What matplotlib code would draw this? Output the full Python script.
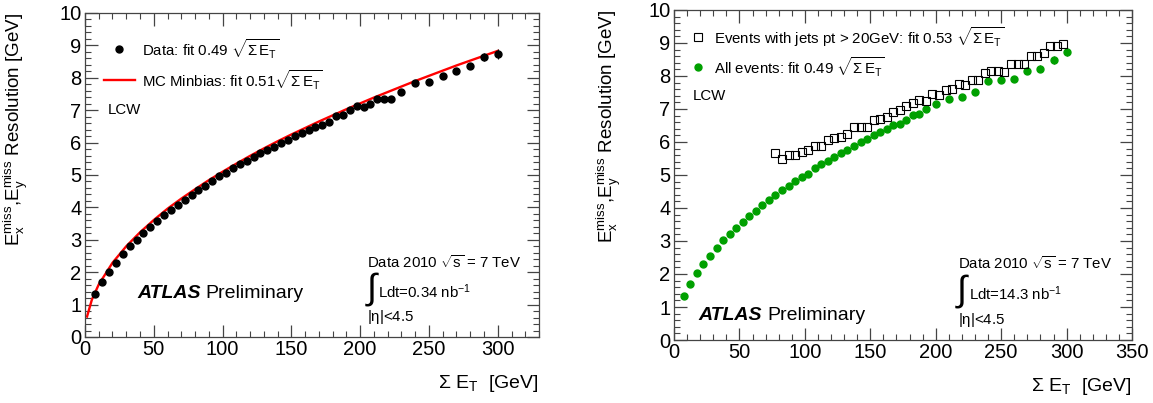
import numpy as np
import matplotlib
matplotlib.use('Agg')
import matplotlib.pyplot as plt
from matplotlib.ticker import MultipleLocator

plt.rcParams['font.family'] = ['Liberation Sans', 'DejaVu Sans']
plt.rcParams['mathtext.fontset'] = 'custom'
plt.rcParams['mathtext.rm'] = 'Liberation Sans'
plt.rcParams['mathtext.it'] = 'Liberation Sans'
plt.rcParams['mathtext.default'] = 'regular'

# Left panel: data (0.34 nb-1) and MC minbias curve
left_x = [7.5, 12.5, 17.5, 22.5, 27.5, 32.5, 37.5, 42.5, 47.5, 52.5,
          57.5, 62.5, 67.5, 72.5, 77.5, 82.5, 87.5, 92.5, 97.5, 102.5,
          107.5, 112.5, 117.5, 122.5, 127.5, 132.5, 137.5, 142.5, 147.5, 152.5,
          157.5, 162.5, 167.5, 172.5, 177.5, 182.5, 187.5, 192.5, 197.5, 202.5,
          207.5, 212.5, 217.5, 222.5, 230, 240, 250, 260, 270, 280, 290, 300]
left_y = [1.34, 1.70, 2.01, 2.29, 2.55, 2.80, 3.00, 3.22, 3.41, 3.59,
          3.76, 3.92, 4.07, 4.23, 4.39, 4.53, 4.67, 4.80, 4.96, 5.05,
          5.22, 5.33, 5.43, 5.56, 5.67, 5.77, 5.87, 6.00, 6.08, 6.19,
          6.31, 6.38, 6.49, 6.53, 6.65, 6.81, 6.85, 7.00, 7.12, 7.09,
          7.20, 7.35, 7.36, 7.34, 7.57, 7.84, 7.86, 8.06, 8.20, 8.35, 8.65, 8.74]
left_err = [0.02] * 44 + [0.04, 0.05, 0.05, 0.06, 0.07, 0.08, 0.12, 0.15]

mc_x = [1.5, 5, 10, 20, 30, 40, 50, 60, 70, 80, 90, 100, 110, 120, 130, 140,
        150, 160, 170, 180, 190, 200, 210, 220, 230, 240, 250, 260, 270, 280, 290, 300]
mc_y = [0.63, 1.15, 1.62, 2.29, 2.80, 3.23, 3.61, 3.96, 4.27, 4.56, 4.84, 5.10,
        5.35, 5.59, 5.82, 6.04, 6.25, 6.45, 6.65, 6.84, 7.03, 7.21, 7.39, 7.56,
        7.73, 7.90, 8.06, 8.22, 8.38, 8.53, 8.68, 8.83]

# Right panel: all events (14.3 nb-1) and events with jets
all_x = [7.5, 12.5, 17.5, 22.5, 27.5, 32.5, 37.5, 42.5, 47.5, 52.5,
         57.5, 62.5, 67.5, 72.5, 77.5, 82.5, 87.5, 92.5, 97.5, 102.5,
         107.5, 112.5, 117.5, 122.5, 127.5, 132.5, 137.5, 142.5, 147.5, 152.5,
         157.5, 162.5, 167.5, 172.5, 177.5, 182.5, 187.5, 192.5,
         200, 210, 220, 230, 240, 250, 260, 270, 280, 290, 300]
all_y = [1.33, 1.70, 2.02, 2.30, 2.55, 2.80, 3.02, 3.22, 3.40, 3.59,
         3.76, 3.92, 4.08, 4.24, 4.39, 4.54, 4.68, 4.81, 4.95, 5.04,
         5.20, 5.32, 5.42, 5.55, 5.67, 5.77, 5.88, 6.01, 6.09, 6.21,
         6.30, 6.40, 6.51, 6.55, 6.66, 6.81, 6.86, 7.01,
         7.14, 7.29, 7.37, 7.52, 7.84, 7.88, 7.91, 8.16, 8.22, 8.47, 8.74]
all_err = [0.02] * 38 + [0.03, 0.03, 0.04, 0.04, 0.05, 0.05, 0.06, 0.10, 0.10, 0.12, 0.15]

jets_x = [77.5, 82.5, 87.5, 92.5, 97.5, 102.5, 107.5, 112.5, 117.5, 122.5,
          127.5, 132.5, 137.5, 142.5, 147.5, 152.5, 157.5, 162.5, 167.5, 172.5,
          177.5, 182.5, 187.5, 192.5, 197.5, 202.5, 207.5, 212.5, 217.5, 222.5,
          227.5, 232.5, 237.5, 242.5, 247.5, 252.5, 257.5, 262.5, 267.5, 272.5,
          277.5, 282.5, 287.5, 292.5, 297.5]
jets_y = [5.66, 5.47, 5.60, 5.60, 5.70, 5.75, 5.88, 5.88, 6.05, 6.13,
          6.16, 6.23, 6.44, 6.44, 6.46, 6.68, 6.71, 6.77, 6.92, 6.97,
          7.09, 7.19, 7.27, 7.24, 7.46, 7.42, 7.57, 7.62, 7.76, 7.73,
          7.87, 7.87, 8.10, 8.15, 8.15, 8.13, 8.35, 8.35, 8.35, 8.62,
          8.62, 8.71, 8.92, 8.90, 8.97]

FS = 14.5        # tick labels
FS_TTL = 14      # axis titles
FS_TXT = 10.8    # legend & info text
sqrt_et = r'$\sqrt{\Sigma\,E_{T}}$'
ylab = r'$E_{x}^{miss}$,$E_{y}^{miss}$ Resolution [GeV]'
xlab = r'$\Sigma\ E_{T}$  [GeV]'
GREEN = '#00a000'


def style_axes(ax, xmax):
    ax.set_xlim(0, xmax)
    ax.set_ylim(0, 10)
    ax.xaxis.set_major_locator(MultipleLocator(50))
    ax.xaxis.set_minor_locator(MultipleLocator(10))
    ax.yaxis.set_major_locator(MultipleLocator(1))
    ax.yaxis.set_minor_locator(MultipleLocator(0.2))
    ax.tick_params(which='both', direction='in', top=True, right=True,
                   color='#444444', labelsize=FS, pad=2.5)
    ax.tick_params(which='major', length=9, width=0.9)
    ax.tick_params(which='minor', length=4.5, width=0.8)
    for s in ax.spines.values():
        s.set_color('#444444')
        s.set_linewidth(0.9)
    ax.set_xlabel(xlab, fontsize=FS_TTL, loc='right')
    ax.set_ylabel(ylab, fontsize=13.5, loc='top')


def info_text(ax, x, lumi):
    ax.text(x, 0.231, r'Data 2010 $\sqrt{s}$ = 7 TeV', transform=ax.transAxes,
            fontsize=FS_TXT, va='center')
    ax.text(x - 0.006, 0.148, r'$\int$', transform=ax.transAxes, fontsize=26, va='center')
    ax.text(x + 0.024, 0.139, 'Ldt=' + lumi + r' nb$^{-1}$', transform=ax.transAxes,
            fontsize=FS_TXT, va='center')
    ax.text(x, 0.062, r'|$\eta$|<4.5', transform=ax.transAxes, fontsize=FS_TXT, va='center')


def atlas_text(ax, x, y, dx):
    ax.text(x, y, 'ATLAS', transform=ax.transAxes, fontsize=14, fontweight='bold',
            style='italic', va='center')
    ax.text(x + dx, y, 'Preliminary', transform=ax.transAxes, fontsize=14, va='center')


fig = plt.figure(figsize=(11.53, 4.03), dpi=100)
ax1 = fig.add_axes([0.0737, 0.1638, 0.3938, 0.804])
ax2 = fig.add_axes([0.5846, 0.1563, 0.3972, 0.819])

# left
ax1.plot(mc_x, mc_y, color='red', lw=1.7, zorder=2)
ax1.errorbar(left_x, left_y, yerr=left_err, fmt='o', color='black', ms=5,
             elinewidth=0.8, capsize=0, zorder=3)
style_axes(ax1, 330)
ax1.plot([0.041, 0.110], [0.793, 0.793], color='red', lw=1.7, transform=ax1.transAxes)
ax1.plot([0.076], [0.889], 'o', color='black', ms=5, transform=ax1.transAxes)
ax1.text(0.126, 0.889, 'Data: fit 0.49 ' + sqrt_et, transform=ax1.transAxes,
         fontsize=FS_TXT, va='center')
ax1.text(0.126, 0.793, 'MC Minbias: fit 0.51' + sqrt_et, transform=ax1.transAxes,
         fontsize=FS_TXT, va='center')
ax1.text(0.050, 0.70, 'LCW', transform=ax1.transAxes, fontsize=FS_TXT, va='center')
atlas_text(ax1, 0.115, 0.133, 0.150)
info_text(ax1, 0.622, '0.34')
ax1.yaxis.set_label_coords(-0.122, 1.0)
ax1.xaxis.set_label_coords(1.0, -0.11)

# right
ax2.errorbar(all_x, all_y, yerr=all_err, fmt='o', color=GREEN, ms=5,
             elinewidth=0.8, ecolor='#333333', capsize=0, zorder=3)
ax2.plot(jets_x, jets_y, 's', mfc='none', mec='black', mew=0.8, ms=5.6, zorder=4)
style_axes(ax2, 350)
ax2.plot([0.0525], [0.918], 's', mfc='none', mec='black', mew=0.8, ms=5.6, transform=ax2.transAxes)
ax2.plot([0.0525], [0.827], 'o', color=GREEN, ms=5, transform=ax2.transAxes)
ax2.text(0.088, 0.918, 'Events with jets pt > 20GeV: fit 0.53 ' + sqrt_et,
         transform=ax2.transAxes, fontsize=FS_TXT, va='center')
ax2.text(0.088, 0.827, 'All events: fit 0.49 ' + sqrt_et,
         transform=ax2.transAxes, fontsize=FS_TXT, va='center')
ax2.text(0.040, 0.74, 'LCW', transform=ax2.transAxes, fontsize=FS_TXT, va='center')
atlas_text(ax2, 0.0525, 0.073, 0.152)
info_text(ax2, 0.62, '14.3')
ax2.yaxis.set_label_coords(-0.112, 1.0)
ax2.xaxis.set_label_coords(1.0, -0.11)

fig.savefig('out.png', dpi=100)
